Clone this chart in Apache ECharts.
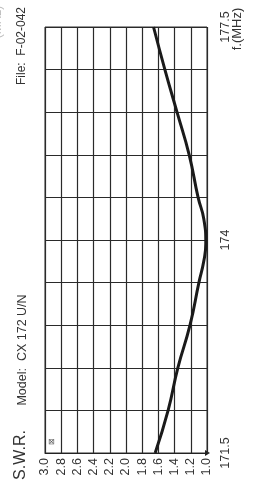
<!DOCTYPE html>
<html>
<head>
<meta charset="utf-8">
<script src="https://cdn.jsdelivr.net/npm/echarts@6/dist/echarts.min.js"></script>
<style>
html,body{margin:0;padding:0;background:#fff;}
#c{width:253px;height:490px;}
</style>
</head>
<body>
<div id="c"></div>
<script>
// Frequency (MHz) and S.W.R.
const freqMHz = [171.5, 172.1, 172.7, 173.3, 173.9, 174.2, 174.45, 174.8, 175.1, 175.7, 176.3, 176.9, 177.5];
const swrValues = [1.64, 1.48, 1.36, 1.21, 1.10, 1.04, 1.015, 1.04, 1.11, 1.22, 1.37, 1.52, 1.66];
const freqStart = 171.5;
const freqTickLabels = ['171.5', '', '', '', '', '174', '', '', '', '', '177.5'];
const swrTickLabels = ['1.0', '1.2', '1.4', '1.6', '1.8', '2.0', '2.2', '2.4', '2.6', '2.8', '3.0'];

const chart = echarts.init(document.getElementById('c'), null, {renderer: 'canvas'});
const font = 'Liberation Sans, Arial, sans-serif';
const R = Math.PI / 2;

const seriesData = freqMHz.map((f, i) => [swrValues[i], f - freqStart]);

chart.setOption({
  animation: false,
  backgroundColor: '#fff',
  grid: {left: 45, right: 46, top: 27, bottom: 37, show: true, borderColor: '#333', borderWidth: 1},
  xAxis: {
    type: 'value', min: 1.0, max: 3.0, interval: 0.2, inverse: true,
    axisLine: {show: true, lineStyle: {color: '#222', width: 1}, symbol: ['none', 'none']},
    axisTick: {show: false},
    splitLine: {show: true, lineStyle: {color: '#2a2a2a', width: 1.2}},
    axisLabel: {
      rotate: 90, margin: 5, fontSize: 12.5, color: '#333', fontFamily: font,
      formatter: v => swrTickLabels[Math.round((v - 1.0) / 0.2)]
    }
  },
  yAxis: {
    type: 'value', position: 'right', min: 0, max: 6, interval: 0.6,
    axisLine: {show: false},
    axisTick: {show: false},
    splitLine: {show: true, lineStyle: {color: '#2a2a2a', width: 1.2}},
    axisLabel: {
      rotate: 90, margin: 12, fontSize: 12.5, color: '#333', fontFamily: font,
      formatter: v => freqTickLabels[Math.round(v / 0.6)] || ''
    }
  },
  series: [{
    type: 'line', data: seriesData, smooth: true, symbol: 'none',
    lineStyle: {color: '#1a1a1a', width: 3}
  }],
  graphic: [
    {type: 'text', x: 21, y: 455, rotation: R, style: {text: 'S.W.R.', font: '16px ' + font, fill: '#333', align: 'center', verticalAlign: 'middle'}},
    {type: 'text', x: 23, y: 350, rotation: R, style: {text: 'Model:  CX 172 U/N', font: '12.5px ' + font, fill: '#333', align: 'center', verticalAlign: 'middle'}},
    {type: 'text', x: 22, y: 46, rotation: R, style: {text: 'File:  F-02-042', font: '12px ' + font, fill: '#333', align: 'center', verticalAlign: 'middle'}},
    {type: 'text', x: 237, y: 29, rotation: R, style: {text: 'f.(MHz)', font: '13px ' + font, fill: '#333', align: 'center', verticalAlign: 'middle'}},
    {type: 'text', x: -2, y: 22, rotation: R, style: {text: '(MHz)', font: '12px ' + font, fill: '#bbb', align: 'center', verticalAlign: 'middle'}},
    {type: 'text', x: 52, y: 441, rotation: R, style: {text: '⊠', font: '8px ' + font, fill: '#555', align: 'center', verticalAlign: 'middle'}},
    {type: 'polygon', shape: {points: [[205, 450], [210, 453], [205, 456]]}, style: {fill: '#222'}}
  ]
});
</script>
</body>
</html>
